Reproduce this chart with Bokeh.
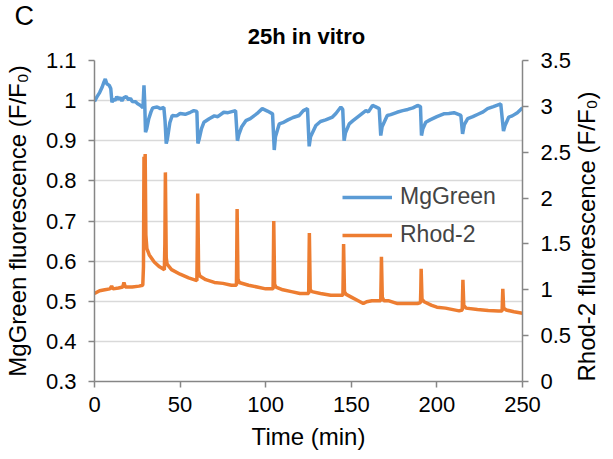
import math
from bokeh.plotting import figure
from bokeh.layouts import column
from bokeh.models import (Range1d, LinearAxis, FixedTicker, CustomJSTickFormatter,
                          Legend, LegendItem)
from bokeh.core.properties import value
from bokeh.embed import file_html
from bokeh.resources import INLINE

# ---- data ----
mg_time = [0, 1.5, 3, 4.5, 5.5, 6.3, 7.2, 8.6, 9.5, 10.2, 11, 12, 13, 14, 15, 16, 17, 18.5, 20, 21, 22, 24,
           25, 26.9, 28.3, 28.9, 29.3, 29.8, 30.5, 31.7, 33, 34, 36.6, 38.5, 40.5,
           41.2, 41.9, 42.6, 44, 45.4, 48, 50, 53, 56, 58, 59.8,
           60.4, 61.2, 62.5, 63.9, 67, 70, 72, 75.5, 78, 82.4,
           83.5, 84.3, 86, 88.4, 91, 95, 98, 101, 104.0,
           105.0, 105.7, 107.9, 110, 113, 116, 119.6, 122, 124.4,
           125.4, 126.2, 129.3, 132, 135, 139, 141, 143.9, 145.0,
           145.8, 146.6, 148.8, 151, 154, 158.5, 160, 162.4, 164, 166.3,
           167.2, 168, 171, 173, 176.7, 180, 183, 186, 188.7, 190.4,
           191.0, 191.8, 193.5, 196, 200, 204, 207, 210, 214.0,
           215.0, 216, 218, 221, 224, 227, 229.6, 233, 237.3,
           238.9, 239.8, 242, 244, 247, 250]
mg_value = [0.998, 1.010, 1.020, 1.034, 1.046, 1.054, 1.042, 1.038, 1.030, 0.996, 1.004, 1.000, 1.010, 1.003, 1.008, 0.999, 1.007, 1.010, 1.002, 1.006, 0.998, 0.997,
            0.993, 0.988, 0.982, 1.038, 1.000, 0.921, 0.930, 0.955, 0.972, 0.982, 0.984, 0.980, 0.983,
            0.950, 0.893, 0.905, 0.945, 0.963, 0.962, 0.968, 0.966, 0.971, 0.975, 0.973,
            0.893, 0.905, 0.930, 0.946, 0.955, 0.962, 0.960, 0.971, 0.970, 0.975,
            0.900, 0.915, 0.935, 0.950, 0.955, 0.968, 0.980, 0.974, 0.967,
            0.877, 0.910, 0.942, 0.945, 0.952, 0.958, 0.963, 0.975, 0.980,
            0.886, 0.910, 0.938, 0.948, 0.952, 0.959, 0.968, 0.984, 0.978,
            0.900, 0.920, 0.942, 0.950, 0.960, 0.975, 0.972, 0.988, 0.985, 0.980,
            0.913, 0.935, 0.963, 0.965, 0.971, 0.975, 0.978, 0.982, 0.988, 0.985,
            0.913, 0.930, 0.946, 0.952, 0.960, 0.967, 0.968, 0.970, 0.963,
            0.917, 0.940, 0.955, 0.960, 0.966, 0.972, 0.980, 0.985, 0.992,
            0.924, 0.938, 0.959, 0.962, 0.970, 0.982]

rh_time = [0, 3, 6, 9, 10, 10.8, 14, 16.5, 17.2, 18, 22, 26, 28.2,
           28.6, 28.9, 29.3, 29.6, 30.0, 30.6, 32, 35, 38, 40.8,
           41.1, 41.4, 41.9, 42.4, 45, 50, 55, 59.8,
           60.0, 60.3, 60.8, 61.5, 65, 70, 75, 80, 82.9,
           83.1, 83.3, 83.8, 84.5, 90, 95, 100, 104.3,
           104.5, 104.7, 105.2, 106, 110, 115, 120, 125.1,
           125.3, 125.5, 126.0, 127, 132, 138, 145.1,
           145.3, 145.5, 146.0, 147, 150, 154, 157, 159, 162, 167.2,
           167.4, 167.6, 168.1, 169, 172, 177, 182, 188.7, 190.4,
           190.6, 190.8, 191.3, 192.5, 197, 200, 205, 213, 214.8,
           215.0, 215.2, 215.7, 217, 223.7, 230, 236, 238.1,
           238.3, 238.5, 239.0, 240.5, 245, 250]
rh_value = [0.96, 0.99, 1.00, 1.01, 1.04, 1.01, 1.02, 1.03, 1.08, 1.03, 1.03, 1.04, 1.05,
            1.25, 2.45, 2.32, 2.48, 1.60, 1.45, 1.38, 1.30, 1.25, 1.22,
            1.50, 2.28, 1.35, 1.28, 1.22, 1.17, 1.13, 1.10,
            1.45, 2.05, 1.20, 1.15, 1.11, 1.08, 1.07, 1.05, 1.05,
            1.40, 1.88, 1.12, 1.08, 1.05, 1.03, 1.01, 1.01,
            1.35, 1.75, 1.06, 1.03, 1.00, 0.98, 0.96, 0.96,
            1.30, 1.62, 1.00, 0.98, 0.96, 0.94, 0.94,
            1.20, 1.50, 0.98, 0.95, 0.92, 0.88, 0.85, 0.87, 0.88, 0.88,
            1.10, 1.36, 0.92, 0.88, 0.88, 0.85, 0.85, 0.85, 0.86,
            1.00, 1.23, 0.90, 0.87, 0.83, 0.81, 0.80, 0.77, 0.78,
            0.95, 1.11, 0.83, 0.80, 0.785, 0.775, 0.77, 0.77,
            0.90, 1.01, 0.80, 0.78, 0.76, 0.745]

x_ticks = [0, 50, 100, 150, 200, 250]
left_ticks = [0.3, 0.4, 0.5, 0.6, 0.7, 0.8, 0.9, 1.0, 1.1]
right_ticks = [0, 0.5, 1.0, 1.5, 2.0, 2.5, 3.0, 3.5]
chart_title = "25h in vitro"
panel_letter = "C"

BLUE = "#5B9BD5"
ORANGE = "#ED7D31"
AXIS = "#868686"
FONT = "Liberation Sans"

# ---- header strip holding the panel letter and the chart title ----
HEAD_H = 48
head = figure(width=613, height=HEAD_H, x_range=Range1d(0, 613), y_range=Range1d(HEAD_H, 0),
              min_border=0, x_axis_type=None, y_axis_type=None,
              output_backend="svg", toolbar_location=None)
head.frame_align = False
head.outline_line_color = None
head.xgrid.grid_line_color = None
head.ygrid.grid_line_color = None
head.text(x=[14], y=[15.5], text=[panel_letter], text_font=value(FONT),
          text_font_size="27px", text_color="black",
          text_align="left", text_baseline="middle")
head.text(x=[306], y=[35.5], text=[chart_title], text_font=value(FONT),
          text_font_size="22px", text_font_style="bold", text_color="black",
          text_align="center", text_baseline="middle")

# ---- main chart ----
p = figure(frame_width=428, frame_height=321,
           min_border_left=92, min_border_right=93, min_border_top=60 - HEAD_H, min_border_bottom=78,
           x_range=Range1d(0, 250), y_range=Range1d(0.3, 1.1),
           output_backend="svg", toolbar_location=None)
p.frame_align = False
p.extra_y_ranges = {"rhod": Range1d(0, 3.5)}
p.outline_line_color = None
p.background_fill_color = "white"
p.border_fill_color = "white"

fmt = CustomJSTickFormatter(code="return String(Math.round(tick*10)/10);")

def style_axis(ax, ticks):
    ax.ticker = FixedTicker(ticks=ticks)
    ax.formatter = fmt
    ax.axis_line_color = AXIS
    ax.axis_line_width = 1.5
    ax.major_tick_line_color = AXIS
    ax.major_tick_line_width = 1.5
    ax.major_tick_out = 6
    ax.major_tick_in = 0
    ax.minor_tick_line_color = None
    ax.major_label_text_font = FONT
    ax.major_label_text_font_size = "22px"
    ax.major_label_text_color = "black"
    ax.axis_label_text_font = FONT
    ax.axis_label_text_font_size = "24px"
    ax.axis_label_text_font_style = "normal"
    ax.axis_label_text_color = "black"

xa = p.xaxis[0]
style_axis(xa, x_ticks)
xa.axis_label = "Time (min)"
xa.major_label_standoff = 9
xa.axis_label_standoff = 8

ya = p.yaxis[0]
style_axis(ya, left_ticks)
ya.axis_label = "MgGreen fluorescence (F/F\u2080)"
ya.major_label_standoff = 12
ya.axis_label_standoff = 12

ra = LinearAxis(y_range_name="rhod")
style_axis(ra, right_ticks)
ra.axis_label = "Rhod-2 fluorescence (F/F\u2080)"
ra.major_label_standoff = 12
ra.axis_label_standoff = 12
ra.axis_label_orientation = math.pi / 2
ra.axis_label_align = "start"
p.add_layout(ra, "right")

p.xgrid.grid_line_color = None
p.ygrid.ticker = FixedTicker(ticks=left_ticks)
p.ygrid.grid_line_color = "#d9d9d9"
p.ygrid.grid_line_width = 1.5

r_mg = p.line(mg_time, mg_value, line_color=BLUE, line_width=3.5)
r_rh = p.line(rh_time, rh_value, line_color=ORANGE, line_width=3.5, y_range_name="rhod")

legend = Legend(items=[LegendItem(label="MgGreen", renderers=[r_mg]),
                       LegendItem(label="Rhod-2", renderers=[r_rh])],
                location=(248, 133), orientation="vertical",
                padding=0, margin=0, spacing=11,
                glyph_width=50, glyph_height=26, label_height=26, label_standoff=8,
                label_text_font=FONT, label_text_font_size="23px",
                label_text_baseline="middle",
                border_line_alpha=0, background_fill_alpha=0)
p.add_layout(legend)

layout = column(head, p, spacing=0)
open("out.html", "w").write(file_html(layout, INLINE))
